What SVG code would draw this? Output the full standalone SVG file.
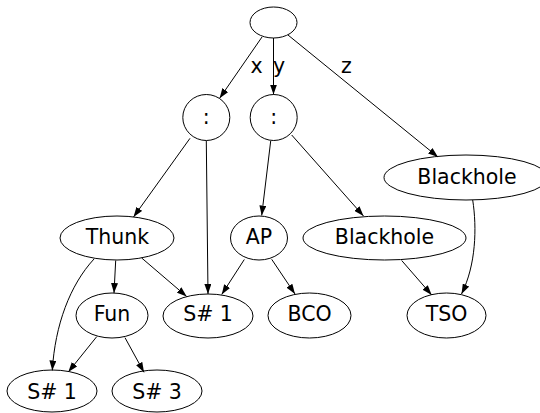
<svg xmlns="http://www.w3.org/2000/svg" width="540" height="413" viewBox="0 0 540 413">
<style>
.n ellipse{fill:none;stroke:#000;stroke-width:1}
text{font-family:"DejaVu Sans","Liberation Sans",sans-serif;font-size:20.5px;text-anchor:middle;fill:#000}
.e path{fill:none;stroke:#000;stroke-width:1;marker-end:url(#ah)}
</style>
<defs>
<marker id="ah" markerUnits="userSpaceOnUse" markerWidth="10" markerHeight="7" refX="10" refY="3.5" orient="auto">
<path d="M0,0 L10,3.5 L0,7 z" fill="#000"/>
</marker>
</defs>
<rect width="540" height="413" fill="#fff"/>
<g class="e" id="edges">
<path d="M262,37 L219.6,98.3"/>
<path d="M273.5,38 L273.5,94.5"/>
<path d="M288,35 L438,157"/>
<path d="M190,138.3 L133.5,217"/>
<path d="M206.3,141 L208,294"/>
<path d="M270.7,141 L261.7,215.5"/>
<path d="M291.7,135 L363.5,216"/>
<path d="M472.7,200 C477,228 476,265 461.5,294"/>
<path d="M401.7,260.5 L431.7,295"/>
<path d="M115.7,260.5 L114,293"/>
<path d="M141.7,258 L186.7,296.5"/>
<path d="M94,259 C70,285 55,325 52.3,370.5"/>
<path d="M244.3,259.5 L221.7,294.5"/>
<path d="M271.7,259.3 L295,294"/>
<path d="M96.7,336.7 L68.3,372"/>
<path d="M125,337.7 L144,372.3"/>
</g>
<g id="labels">
<text x="256.5" y="73">x</text>
<text x="279" y="73">y</text>
<text x="346.5" y="73">z</text>
</g>
<g class="n" id="root"><ellipse cx="273.5" cy="22.5" rx="23.5" ry="15.5"/></g>
<g class="n" id="cons1"><ellipse cx="206.3" cy="117.5" rx="23.5" ry="23"/><text x="206.3" y="123.5">:</text></g>
<g class="n" id="cons2"><ellipse cx="273.7" cy="117.5" rx="23.5" ry="23"/><text x="273.7" y="123.5">:</text></g>
<g class="n" id="blackhole1"><ellipse cx="466" cy="177.5" rx="82" ry="22.5"/><text x="467" y="183.5">Blackhole</text></g>
<g class="n" id="thunk"><ellipse cx="117" cy="238" rx="57" ry="22"/><text x="117.5" y="244">Thunk</text></g>
<g class="n" id="ap"><ellipse cx="259" cy="238" rx="28.5" ry="22"/><text x="259" y="244">AP</text></g>
<g class="n" id="blackhole2"><ellipse cx="384.5" cy="238" rx="81.5" ry="22"/><text x="384.5" y="244">Blackhole</text></g>
<g class="n" id="fun"><ellipse cx="112" cy="315.5" rx="36" ry="22.5"/><text x="112" y="321">Fun</text></g>
<g class="n" id="s1mid"><ellipse cx="208" cy="316" rx="45" ry="22"/><text x="208" y="321">S# 1</text></g>
<g class="n" id="bco"><ellipse cx="309.5" cy="315.5" rx="41.5" ry="22.5"/><text x="309.5" y="321">BCO</text></g>
<g class="n" id="tso"><ellipse cx="446.5" cy="315.5" rx="39.5" ry="22.5"/><text x="446.5" y="321">TSO</text></g>
<g class="n" id="s1bot"><ellipse cx="52" cy="391" rx="45" ry="21"/><text x="52" y="399">S# 1</text></g>
<g class="n" id="s3"><ellipse cx="157" cy="391" rx="45" ry="21"/><text x="157" y="399">S# 3</text></g>
</svg>
